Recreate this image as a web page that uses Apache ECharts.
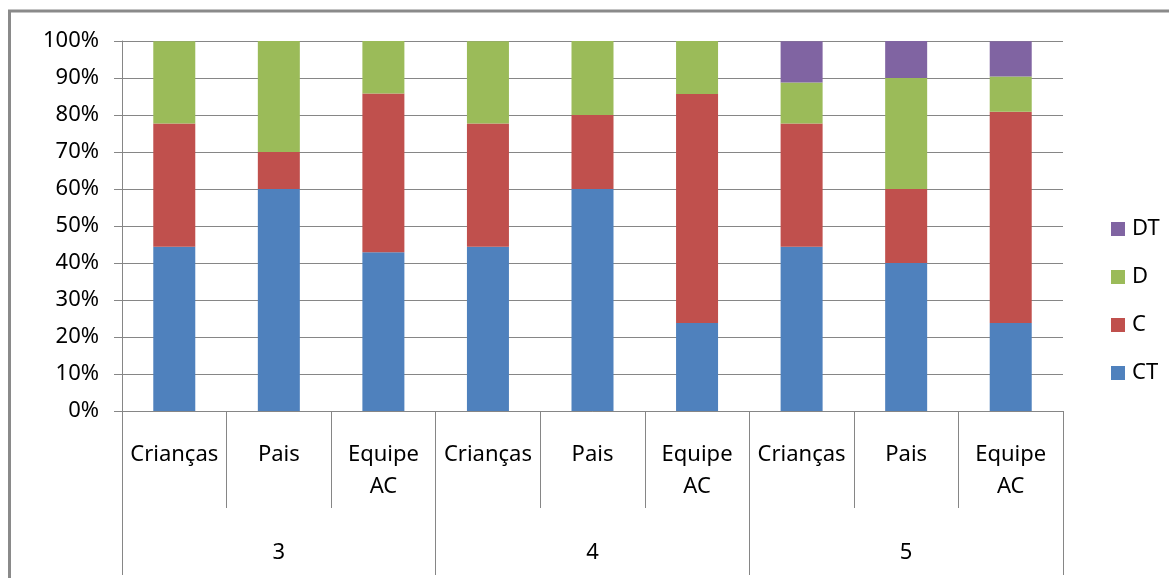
<!DOCTYPE html>
<html>
<head>
<meta charset="utf-8">
<script src="https://cdn.jsdelivr.net/npm/echarts@6/dist/echarts.min.js"></script>
<style>
html,body{margin:0;padding:0;background:#fff;}
#chart{width:1169px;height:578px;}
</style>
</head>
<body>
<div id="chart"></div>
<script>
var categories = ['Crianças','Pais','Equipe\nAC','Crianças','Pais','Equipe\nAC','Crianças','Pais','Equipe\nAC'];
var groups = ['3','4','5'];
var yTicks = [0,10,20,30,40,50,60,70,80,90,100];
var seriesNames = ['CT','C','D','DT'];
var CT = [44.4, 60, 42.9, 44.4, 60, 23.8, 44.4, 40, 23.8];
var C  = [33.3, 10, 42.9, 33.3, 20, 61.9, 33.3, 20, 57.1];
var D  = [22.2, 30, 14.3, 22.2, 20, 14.3, 11.1, 30, 9.5];
var DT = [0, 0, 0, 0, 0, 0, 11.1, 10, 9.5];
var colors = ['#4F81BD','#C0504D','#9BBB59','#8064A2'];

var FONT = 'Noto Sans';
var chart = echarts.init(document.getElementById('chart'));
var values = [CT, C, D, DT];
var series = seriesNames.map(function(n, i){
  return {
    name: n, type: 'bar', stack: 'total', barWidth: 42,
    data: values[i], itemStyle: {color: colors[i]},
    xAxisIndex: 0
  };
});
chart.setOption({
  animation: false,
  textStyle: {fontFamily: FONT},
  color: colors,
  grid: {left: 122, right: 106, top: 41, bottom: 167, containLabel: false},
  graphic: [{
    type: 'rect', shape: {x: 9.5, y: 11, width: 1300, height: 700},
    style: {fill: 'none', stroke: '#8a8a8a', lineWidth: 3}, silent: true
  }],
  legend: {
    orient: 'vertical', left: 1106, top: 213,
    data: ['DT','D','C','CT'],
    itemWidth: 14, itemHeight: 14, itemGap: 26,
    icon: 'rect',
    textStyle: {fontFamily: FONT, fontSize: 22, color: '#000', lineHeight: 20, padding: [0,0,0,2]}
  },
  xAxis: [{
    type: 'category', data: categories, position: 'bottom',
    axisLine: {show: true, lineStyle: {color: '#868686', width: 1}},
    axisTick: {show: true, interval: 0, length: 97, lineStyle: {color: '#868686'}},
    axisLabel: {interval: 0, margin: 28, fontFamily: FONT, fontSize: 22, color: '#000', lineHeight: 32, align: 'center'},
    splitLine: {show: false}
  }, {
    type: 'category', data: groups, position: 'bottom', offset: 0,
    axisLine: {show: false},
    axisTick: {show: true, interval: 0, length: 164, lineStyle: {color: '#868686'}},
    axisLabel: {interval: 0, margin: 130, fontFamily: FONT, fontSize: 22, color: '#000', lineHeight: 24},
    splitLine: {show: false}
  }],
  yAxis: {
    type: 'value', min: yTicks[0], max: yTicks[yTicks.length-1], interval: 10,
    axisLine: {show: true, lineStyle: {color: '#868686'}},
    axisTick: {show: true, length: 8, lineStyle: {color: '#868686'}},
    axisLabel: {margin: 23, fontFamily: FONT, fontSize: 22, color: '#000', formatter: function(v){return v + '%';}},
    splitLine: {show: true, lineStyle: {color: '#868686', width: 1}}
  },
  series: series
});
</script>
</body>
</html>
